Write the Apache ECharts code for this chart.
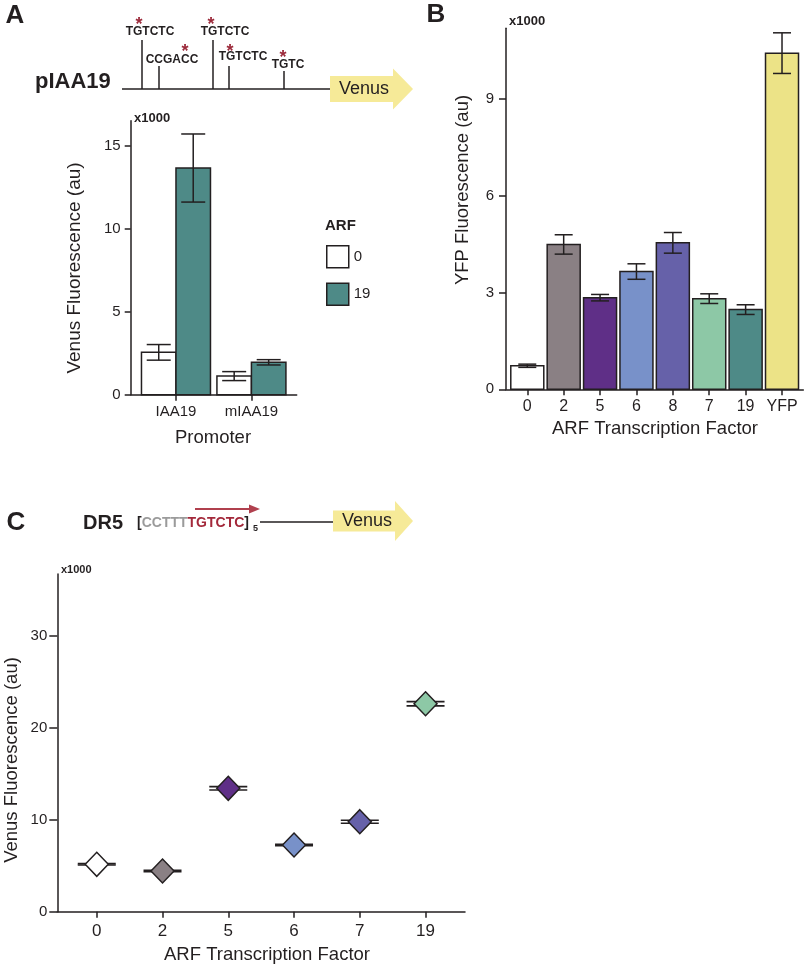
<!DOCTYPE html>
<html><head><meta charset="utf-8">
<script src="https://cdn.jsdelivr.net/npm/echarts@6/dist/echarts.min.js"></script>
<style>html,body{margin:0;padding:0;background:#fff}#c{width:805px;height:965px}</style>
</head><body><div id="c"></div>
<script>
// ---------- DATA ----------
const aCategories = ['IAA19', 'mIAA19'];
const aSeriesNames = ['0', '19'];
const aValuesArf0 = [2.55, 1.12];
const aErrorsArf0 = [0.47, 0.27];
const aValuesArf19 = [13.65, 1.95];
const aErrorsArf19 = [2.05, 0.16];
const aYTicks = [0, 5, 10, 15];

const bCategories = ['0', '2', '5', '6', '8', '7', '19', 'YFP'];
const bValues = [0.73, 4.49, 2.84, 3.65, 4.54, 2.81, 2.47, 10.42];
const bErrors = [0.05, 0.30, 0.10, 0.24, 0.32, 0.15, 0.15, 0.63];
const bYTicks = [0, 3, 6, 9];

const cCategories = ['0', '2', '5', '6', '7', '19'];
const cValues = [5.15, 4.42, 13.41, 7.25, 9.78, 22.6];
const cErrors = [0.08, 0.08, 0.18, 0.08, 0.16, 0.23];
const cYTicks = [0, 10, 20, 30];

// ---------- STYLE ----------
const FONT = '"Liberation Sans", Arial, Helvetica, sans-serif';
const INK = '#231f20';
const aColors = ['#ffffff', '#4e8a87'];
const bColors = ['#ffffff', '#8a8084', '#5f2f87', '#7891c9', '#6661a9', '#8dc8a6', '#4e8a87', '#ece387'];
const cColors = ['#ffffff', '#8a8084', '#5f2f87', '#7891c9', '#6661a9', '#8dc8a6'];
const YELLOW = '#f6ea98';
const RED = '#9c2a3b';

const chart = echarts.init(document.getElementById('c'), null, {renderer: 'canvas'});

function idx(arr) { return arr.map((_, i) => i); }

function yAxisCfg(grid, max, ticks, tickLen, margin) {
  return {
    type: 'value', gridIndex: grid, min: 0, max: max,
    axisLine: {show: true, onZero: false, lineStyle: {color: INK, width: 1.5}},
    axisTick: {show: true, length: tickLen, customValues: ticks, lineStyle: {color: INK, width: 1.5}},
    axisLabel: {customValues: ticks, margin: margin, color: INK, fontFamily: FONT, fontSize: 15},
    splitLine: {show: false}
  };
}
function xAxisCfg(grid, min, max, cats, fontSize, margin) {
  const vals = idx(cats);
  return {
    type: 'value', gridIndex: grid, min: min, max: max,
    axisLine: {show: true, onZero: false, lineStyle: {color: INK, width: 1.5}},
    axisTick: {show: true, length: 6, customValues: vals, lineStyle: {color: INK, width: 1.5}},
    axisLabel: {customValues: vals, margin: margin, color: INK, fontFamily: FONT, fontSize: fontSize,
      formatter: v => cats[Math.round(v)]},
    splitLine: {show: false}
  };
}

function barRenderer(offsetPx, widthPx, capHalf, colorOf) {
  return function (params, api) {
    const x = api.value(0), v = api.value(1), e = api.value(2);
    const base = api.coord([x, 0]);
    const top = api.coord([x, v]);
    const hi = api.coord([x, v + e]);
    const lo = api.coord([x, v - e]);
    const cx = base[0] + offsetPx;
    const st = {stroke: INK, lineWidth: 1.5};
    return {type: 'group', children: [
      {type: 'rect', shape: {x: cx - widthPx / 2, y: top[1], width: widthPx, height: base[1] - top[1]},
       style: {fill: colorOf(params.dataIndex), stroke: INK, lineWidth: 1.5}},
      {type: 'line', shape: {x1: cx, y1: hi[1], x2: cx, y2: lo[1]}, style: st},
      {type: 'line', shape: {x1: cx - capHalf, y1: hi[1], x2: cx + capHalf, y2: hi[1]}, style: st},
      {type: 'line', shape: {x1: cx - capHalf, y1: lo[1], x2: cx + capHalf, y2: lo[1]}, style: st}
    ]};
  };
}

function capRenderer(capHalf) {
  return function (params, api) {
    const x = api.value(0), v = api.value(1), e = api.value(2);
    const hi = api.coord([x, v + e]);
    const lo = api.coord([x, v - e]);
    const cx = hi[0];
    const st = {stroke: INK, lineWidth: 1.6};
    return {type: 'group', children: [
      {type: 'line', shape: {x1: cx, y1: hi[1], x2: cx, y2: lo[1]}, style: st},
      {type: 'line', shape: {x1: cx - capHalf, y1: hi[1], x2: cx + capHalf, y2: hi[1]}, style: st},
      {type: 'line', shape: {x1: cx - capHalf, y1: lo[1], x2: cx + capHalf, y2: lo[1]}, style: st}
    ]};
  };
}

function txt(x, y, text, font, opts) {
  opts = opts || {};
  return Object.assign({type: 'text', x: x, y: y, silent: true,
    style: {text: text, font: font, fill: opts.fill || INK, align: opts.align || 'center', verticalAlign: 'middle'}},
    opts.rotation ? {rotation: opts.rotation} : {});
}
function ln(x1, y1, x2, y2, color, w) {
  return {type: 'line', silent: true, shape: {x1, y1, x2, y2}, style: {stroke: color || INK, lineWidth: w || 1.5}};
}
function arrowPoly(x0, x1, tip, cy, bodyH, headH) {
  return {type: 'polygon', silent: true, shape: {points: [
    [x0, cy - bodyH / 2], [x1, cy - bodyH / 2], [x1, cy - headH / 2], [tip, cy],
    [x1, cy + headH / 2], [x1, cy + bodyH / 2], [x0, cy + bodyH / 2]]},
    style: {fill: YELLOW}};
}

const graphics = [
  // Panel A header
  txt(15, 16, 'A', 'bold 26px ' + FONT),
  txt(35, 82, 'pIAA19', 'bold 22px ' + FONT, {align: 'left'}),
  ln(122, 89, 331, 89),
  ln(142, 40, 142, 89), ln(159, 66, 159, 89), ln(213, 40, 213, 89), ln(229, 66, 229, 89), ln(284, 71, 284, 89),
  txt(150, 32, 'TGTCTC', 'bold 12px ' + FONT),
  txt(172, 60, 'CCGACC', 'bold 12px ' + FONT),
  txt(225, 32, 'TGTCTC', 'bold 12px ' + FONT),
  txt(243, 57, 'TGTCTC', 'bold 12px ' + FONT),
  txt(288, 65, 'TGTC', 'bold 12px ' + FONT),
  txt(139, 25, '*', 'bold 18px ' + FONT, {fill: RED}),
  txt(185, 52, '*', 'bold 18px ' + FONT, {fill: RED}),
  txt(211, 25, '*', 'bold 18px ' + FONT, {fill: RED}),
  txt(230, 52, '*', 'bold 18px ' + FONT, {fill: RED}),
  txt(283, 58, '*', 'bold 18px ' + FONT, {fill: RED}),
  arrowPoly(330, 393, 413, 89, 26, 41),
  txt(364, 89, 'Venus', '18px ' + FONT),
  // Panel A axis texts
  txt(134, 118, 'x1000', 'bold 13px ' + FONT, {align: 'left'}),
  txt(75, 268, 'Venus Fluorescence (au)', '19px ' + FONT, {rotation: Math.PI / 2}),
  txt(213, 438, 'Promoter', '18.5px ' + FONT),
  txt(325, 226, 'ARF', 'bold 15px ' + FONT, {align: 'left'}),
  // Panel B
  txt(436, 15, 'B', 'bold 26px ' + FONT),
  txt(509, 21, 'x1000', 'bold 13px ' + FONT, {align: 'left'}),
  txt(463, 190, 'YFP Fluorescence (au)', '18.5px ' + FONT, {rotation: Math.PI / 2}),
  txt(655, 429, 'ARF Transcription Factor', '18.5px ' + FONT),
  // Panel C header
  txt(16, 523, 'C', 'bold 26px ' + FONT),
  txt(83, 523, 'DR5', 'bold 20px ' + FONT, {align: 'left'}),
  {type: 'text', x: 137, y: 523, silent: true, style: {
    text: '{k|[}{g|CCTTT}{r|TGTCTC}{k|]}', font: 'bold 14px ' + FONT, verticalAlign: 'middle', align: 'left',
    rich: {k: {fill: INK, font: 'bold 14px ' + FONT}, g: {fill: '#9b9b9b', font: 'bold 14px ' + FONT}, r: {fill: '#a3283a', font: 'bold 14px ' + FONT}}}},
  txt(253, 529, '5', 'bold 9px ' + FONT, {align: 'left'}),
  ln(260, 522, 334, 522),
  ln(195, 509, 252, 509, '#b0404e', 2),
  {type: 'polygon', silent: true, shape: {points: [[249, 504.5], [260, 509], [249, 513.5]]}, style: {fill: '#b0404e'}},
  arrowPoly(333, 395, 413, 521, 21, 40),
  txt(367, 521, 'Venus', '18px ' + FONT),
  // Panel C axis texts
  txt(61, 570, 'x1000', 'bold 11px ' + FONT, {align: 'left'}),
  txt(12, 760, 'Venus Fluorescence (au)', '18.5px ' + FONT, {rotation: Math.PI / 2}),
  txt(267, 955, 'ARF Transcription Factor', '18.5px ' + FONT)
];

const option = {
  backgroundColor: '#ffffff',
  animation: false,
  textStyle: {fontFamily: FONT},
  grid: [
    {left: 130.7, top: 120.7, width: 166, height: 274},
    {left: 506, top: 28.3, width: 297.3, height: 361},
    {left: 57.3, top: 574, width: 407.7, height: 337.7}
  ],
  xAxis: [
    xAxisCfg(0, -0.6, 1.6, aCategories, 15, 10),
    xAxisCfg(1, -0.585, 7.585, bCategories, 16, 9),
    xAxisCfg(2, -0.6, 5.6, cCategories, 17, 11)
  ],
  yAxis: [
    yAxisCfg(0, 16.5, aYTicks, 6, 10),
    yAxisCfg(1, 11.19, bYTicks, 7, 12),
    yAxisCfg(2, 36.7, cYTicks, 8, 10)
  ],
  legend: {
    orient: 'vertical', left: 326, top: 245, padding: 0, itemWidth: 22, itemHeight: 22, itemGap: 14,
    icon: 'rect', selectedMode: false,
    textStyle: {color: INK, fontFamily: FONT, fontSize: 15},
    data: [
      {name: aSeriesNames[0], itemStyle: {color: aColors[0], borderColor: INK, borderWidth: 1.5}},
      {name: aSeriesNames[1], itemStyle: {color: aColors[1], borderColor: INK, borderWidth: 1.5}}
    ]
  },
  graphic: graphics,
  series: [
    {type: 'custom', name: aSeriesNames[0], xAxisIndex: 0, yAxisIndex: 0,
     itemStyle: {color: aColors[0]},
     renderItem: barRenderer(-17.25, 34.5, 12, () => aColors[0]),
     data: aValuesArf0.map((v, i) => [i, v, aErrorsArf0[i]])},
    {type: 'custom', name: aSeriesNames[1], xAxisIndex: 0, yAxisIndex: 0,
     itemStyle: {color: aColors[1]},
     renderItem: barRenderer(17.25, 34.5, 12, () => aColors[1]),
     data: aValuesArf19.map((v, i) => [i, v, aErrorsArf19[i]])},
    {type: 'custom', name: 'B', xAxisIndex: 1, yAxisIndex: 1,
     renderItem: barRenderer(0, 33, 9, i => bColors[i]),
     data: bValues.map((v, i) => [i, v, bErrors[i]])},
    {type: 'custom', name: 'Cerr', xAxisIndex: 2, yAxisIndex: 2, z: 2,
     renderItem: capRenderer(19),
     data: cValues.map((v, i) => [i, v, cErrors[i]])},
    {type: 'scatter', name: 'C', xAxisIndex: 2, yAxisIndex: 2, z: 5,
     symbol: 'diamond', symbolSize: [23, 24],
     data: cValues.map((v, i) => ({value: [i, v], itemStyle: {color: cColors[i], borderColor: INK, borderWidth: 1.5, opacity: 1}}))}
  ]
};
chart.setOption(option);
</script>
</body></html>
